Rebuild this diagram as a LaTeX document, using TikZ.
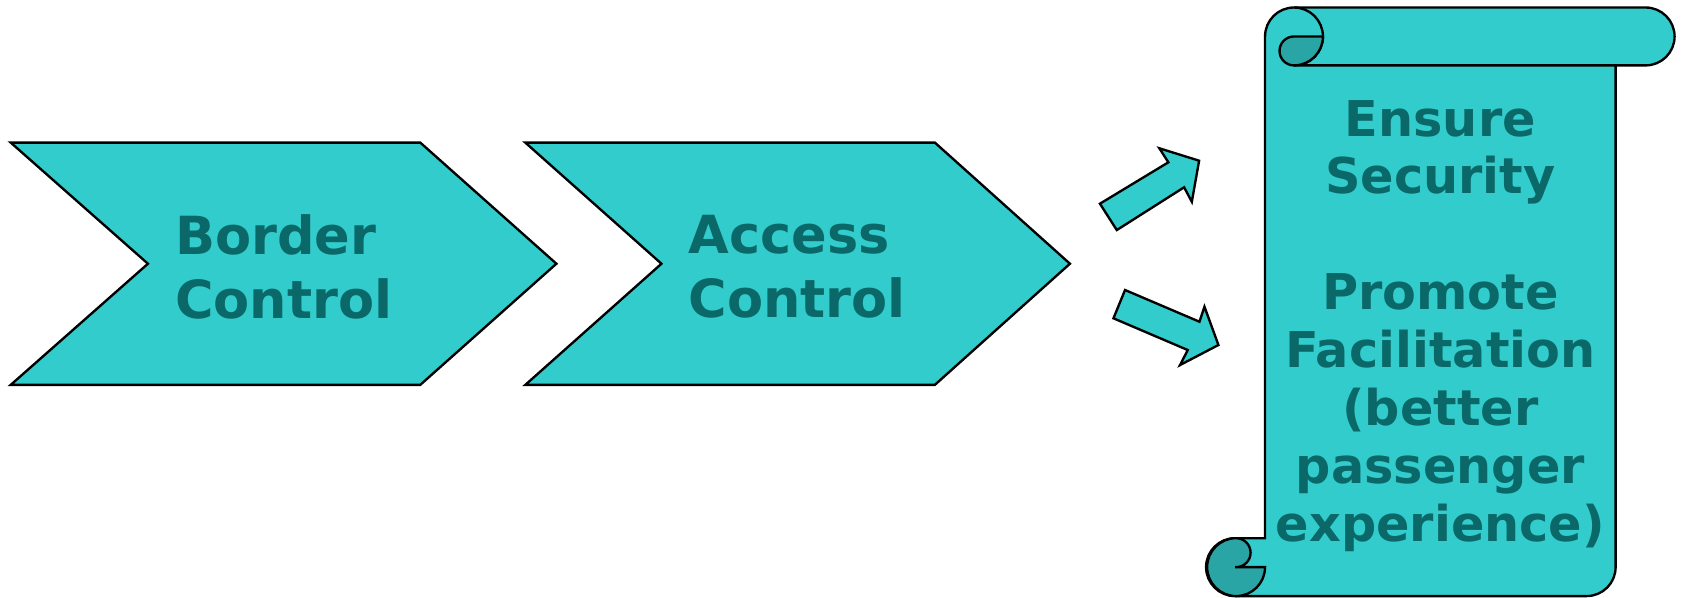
\documentclass[tikz,border=0pt]{standalone}
\usepackage{fontspec}
\setmainfont{DejaVu Sans}
\definecolor{tealA}{HTML}{33CCCC}
\definecolor{tealB}{HTML}{2AA5A5}
\definecolor{tealTxt}{HTML}{0A6868}
\begin{document}
\begin{tikzpicture}[x=0.5pt,y=-0.5pt,
  shapestyle/.style={fill=tealA,draw=black,line width=1.1pt,line join=miter},
  lineonly/.style={draw=black,line width=1.1pt},
  darkstyle/.style={fill=tealB,draw=black,line width=1.1pt},
  chevlbl/.style={inner sep=0pt,text=tealTxt,font=\bfseries\fontsize{24.5}{30}\selectfont,align=left,anchor=west},
  scrolllbl/.style={inner sep=0pt,text=tealTxt,font=\bfseries\fontsize{23}{27}\selectfont,align=center,anchor=north}]
\useasboundingbox (0,0) rectangle (1568,557);
% chevrons
\draw[shapestyle] (10,133) -- (392,133) -- (519,246) -- (392,359) -- (10,359) -- (138,246) -- cycle;
\draw[shapestyle] (490,133) -- (872,133) -- (998,246) -- (872,359) -- (490,359) -- (617,246) -- cycle;
\node[chevlbl] (border) at (163,249) {Border\\Control};
\node[chevlbl] (access) at (642,249) {Access\\Control};
% block arrows
\draw[shapestyle] (1026,190) -- (1089.8,151.4) -- (1081.4,138.3) -- (1118.5,149.9) -- (1111.7,188.2) -- (1104.5,174.7) -- (1041.7,214.6) -- cycle;
\draw[shapestyle] (1049.4,270.5) -- (1118.8,300.1) -- (1123.5,286.1) -- (1136.5,321.8) -- (1100.7,340.5) -- (1107.9,326.5) -- (1038.6,296.9) -- cycle;
% scroll body
\draw[shapestyle] (1180,34) arc[start angle=180,end angle=270,radius=27] -- (1535,7)
  arc[start angle=270,end angle=450,radius=27] -- (1507,61) -- (1507,529)
  arc[start angle=0,end angle=90,radius=27] -- (1152,556)
  arc[start angle=90,end angle=270,radius=27] -- (1180,502) -- cycle;
% top curl
\draw[lineonly] (1207,7) arc[start angle=270,end angle=450,radius=27] -- (1507,61);
\draw[darkstyle] (1207,34) -- (1234,34) arc[start angle=0,end angle=90,radius=27]
  arc[start angle=90,end angle=270,radius=13.5] -- cycle;
% bottom curl
\draw[darkstyle] (1152,529) -- (1180,529) arc[start angle=0,end angle=270,radius=27]
  arc[start angle=-90,end angle=90,radius=13.5] -- cycle;
\node[scrolllbl] (goals) at (1343.5,93) {Ensure\\Security\\[27pt]Promote\\Facilitation\\(better\\passenger\\experience)};
\end{tikzpicture}
\end{document}
